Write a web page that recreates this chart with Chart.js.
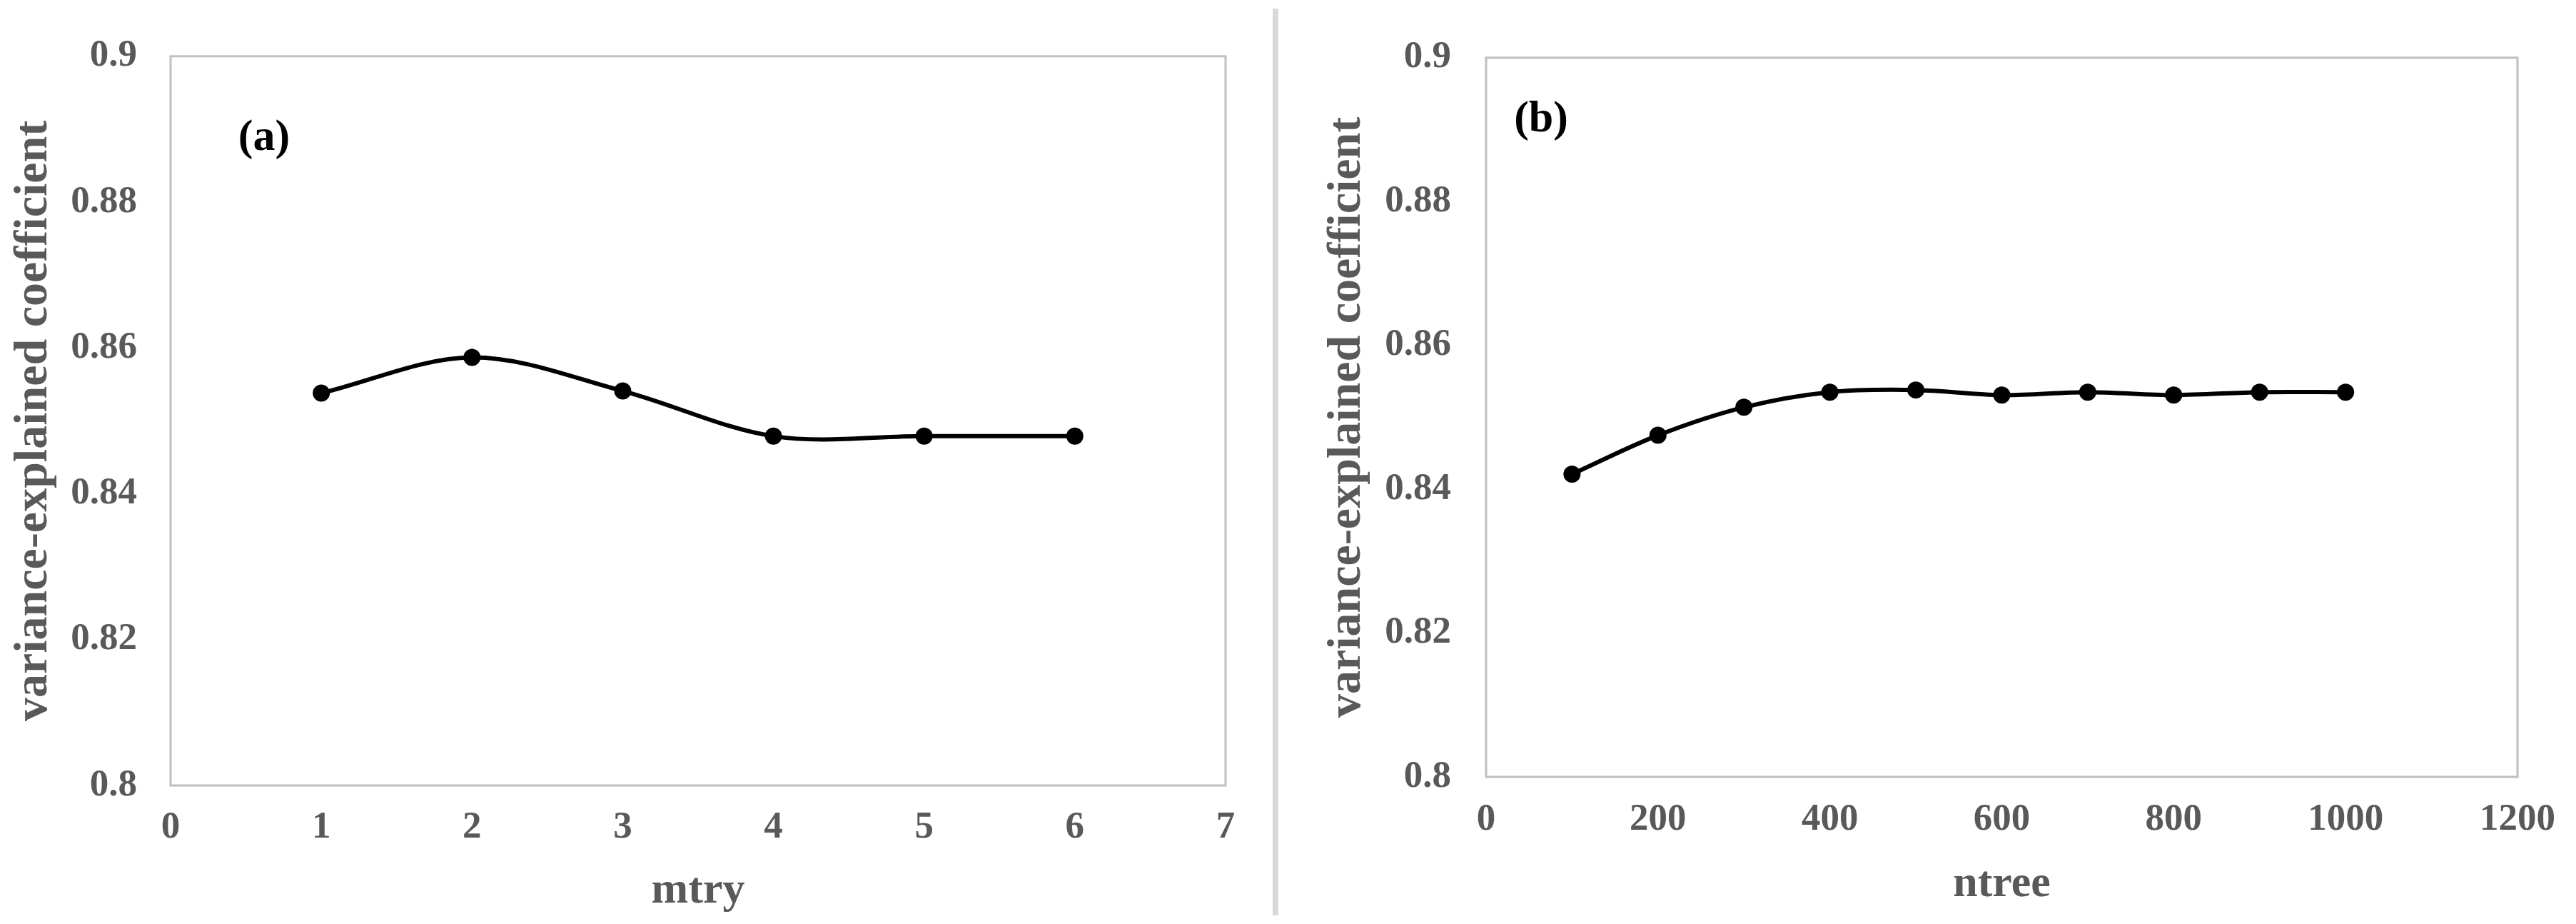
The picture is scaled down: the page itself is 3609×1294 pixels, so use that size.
<!doctype html>
<html>
<head>
<title>mtry / ntree</title>
<script src="https://cdn.jsdelivr.net/npm/chart.js@4.4.1/dist/chart.umd.min.js"></script>
<style>
  html, body { margin: 0; padding: 0; background: #fff; }
  #wrap { position: relative; width: 3609px; height: 1294px; overflow: hidden; }
  #left { position: absolute; left: 0; top: 0; }
  #right { position: absolute; left: 1791px; top: 0; }
  #divider { position: absolute; left: 1783px; top: 12px; width: 8px; height: 1270px; background: #d9d9d9; }
</style>
</head>
<body>
<div id="wrap">
  <canvas id="left" width="1783" height="1294"></canvas>
  <div id="divider"></div>
  <canvas id="right" width="1818" height="1294"></canvas>
</div>
<script>
// panel (a)
const mtry = [1, 2, 3, 4, 5, 6];
const mtryScore = [0.8538, 0.8587, 0.8541, 0.8479, 0.8479, 0.8479];
const mtryTicks = [0, 1, 2, 3, 4, 5, 6, 7];
const mtryTickLabels = ['0', '1', '2', '3', '4', '5', '6', '7'];

// panel (b)
const ntree = [100, 200, 300, 400, 500, 600, 700, 800, 900, 1000];
const ntreeScore = [0.8421, 0.8475, 0.8514, 0.8535, 0.8538, 0.8531, 0.8535, 0.8531, 0.8535, 0.8535];
const ntreeTicks = [0, 200, 400, 600, 800, 1000, 1200];
const ntreeTickLabels = ['0', '200', '400', '600', '800', '1000', '1200'];

const yTicks = [0.8, 0.82, 0.84, 0.86, 0.88, 0.9];
const yTickLabels = ['0.8', '0.82', '0.84', '0.86', '0.88', '0.9'];
const yTitle = 'variance-explained coefficient';

const GREY = '#595959';
const SERIF = '"Liberation Serif", "Times New Roman", serif';

// box round the plot area
const frame = {
  id: 'frame',
  beforeDatasetsDraw(chart) {
    const a = chart.chartArea, ctx = chart.ctx;
    ctx.save();
    ctx.strokeStyle = '#bfbfbf';
    ctx.lineWidth = 3;
    ctx.strokeRect(a.left, a.top, a.right - a.left, a.bottom - a.top);
    ctx.restore();
  }
};

// "(a)" / "(b)" tag, placed in data units
const tag = {
  id: 'tag',
  afterDraw(chart, args, opts) {
    const ctx = chart.ctx;
    const x = chart.scales.x.getPixelForValue(opts.x);
    const y = chart.scales.y.getPixelForValue(opts.y);
    ctx.save();
    ctx.font = 'bold 62px ' + SERIF;
    ctx.fillStyle = '#000';
    ctx.textAlign = 'center';
    ctx.textBaseline = 'middle';
    ctx.fillText(opts.text, x, y);
    ctx.restore();
  }
};

function makeChart(id, xs, ys, xTicks, xLabels, xTitle, cfg) {
  const pts = xs.map((x, i) => ({ x: x, y: ys[i] }));
  return new Chart(document.getElementById(id), {
    type: 'line',
    data: {
      datasets: [{
        data: pts,
        borderColor: '#000',
        backgroundColor: '#000',
        borderWidth: 6,
        tension: 0.33,
        pointRadius: 12,
        pointHoverRadius: 12,
        pointBorderWidth: 0,
        fill: false,
        clip: false
      }]
    },
    options: {
      responsive: false,
      animation: false,
      events: [],
      layout: { padding: { left: 0, right: cfg.right, top: cfg.top, bottom: 0 } },
      plugins: {
        legend: { display: false },
        tooltip: { enabled: false },
        tag: { text: cfg.tag, x: cfg.tagX, y: cfg.tagY }
      },
      scales: {
        x: {
          type: 'linear',
          min: xTicks[0],
          max: xTicks[xTicks.length - 1],
          afterBuildTicks: s => { s.ticks = xTicks.map(v => ({ value: v })); },
          afterFit: s => { s.height = cfg.xH; },
          grid: { display: false, drawTicks: false },
          border: { display: false },
          ticks: {
            color: GREY,
            padding: cfg.xPad,
            maxRotation: 0,
            callback: (v, i) => xLabels[i],
            font: { family: SERIF, size: 53, weight: 'bold' }
          },
          title: {
            display: true,
            text: xTitle,
            color: GREY,
            padding: { top: 0, bottom: cfg.xTitlePad },
            font: { family: SERIF, size: 62, weight: 'bold', lineHeight: 1 }
          }
        },
        y: {
          min: yTicks[0],
          max: yTicks[yTicks.length - 1],
          afterBuildTicks: s => { s.ticks = yTicks.map(v => ({ value: v })); },
          afterFit: s => { s.width = cfg.yW; },
          grid: { display: false, drawTicks: false },
          border: { display: false },
          ticks: {
            color: GREY,
            padding: cfg.yPad,
            callback: (v, i) => yTickLabels[i],
            font: { family: SERIF, size: 53, weight: 'bold' }
          },
          title: {
            display: true,
            text: yTitle,
            color: GREY,
            padding: { top: cfg.yTitlePad, bottom: 0 },
            font: { family: SERIF, size: 66, weight: 'bold', lineHeight: 1 }
          }
        }
      }
    },
    plugins: [frame, tag]
  });
}

makeChart('left', mtry, mtryScore, mtryTicks, mtryTickLabels, 'mtry', {
  right: 66, top: 43, xH: 194, yW: 239,
  xPad: 28, yPad: 47, xTitlePad: 15, yTitlePad: 15,
  tag: '(a)', tagX: 0.62, tagY: 0.8887
});

makeChart('right', ntree, ntreeScore, ntreeTicks, ntreeTickLabels, 'ntree', {
  right: 67, top: 54, xH: 206, yW: 291,
  xPad: 29, yPad: 49, xTitlePad: 24, yTitlePad: 64,
  tag: '(b)', tagX: 64, tagY: 0.8913
});
</script>
</body>
</html>
